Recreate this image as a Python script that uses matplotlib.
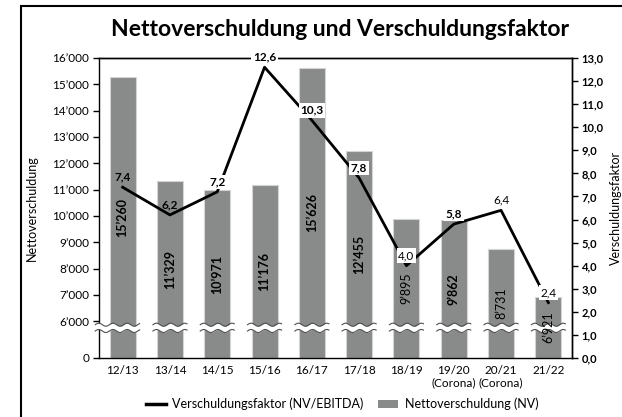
import numpy as np
import matplotlib.pyplot as plt
import matplotlib.transforms as mtransforms
from matplotlib.patches import Rectangle, Patch
from matplotlib.lines import Line2D

plt.rcParams['font.family'] = ['Lato', 'DejaVu Sans']

years = ['12/13', '13/14', '14/15', '15/16', '16/17', '17/18', '18/19',
         '19/20\n(Corona)', '20/21\n(Corona)', '21/22']
netdebt = [15260, 11329, 10971, 11176, 15626, 12455, 9895, 9862, 8731, 6921]
factor = [7.4, 6.2, 7.2, 12.6, 10.3, 7.8, 4.0, 5.8, 6.4, 2.4]
left_ticks = [0, 6000, 7000, 8000, 9000, 10000, 11000, 12000, 13000, 14000, 15000, 16000]
right_ticks = list(range(14))

# which labels are bold / boxed
bar_bold = [True, True, True, True, True, True, False, True, False, False]
fac_bold = [True, True, True, True, True, True, False, True, False, False]
fac_box = [False, False, True, True, True, True, True, True, False, True]

BAR_COL = '#898b8b'

# broken axis: 0..6000 squeezed into a short strip at the bottom
BREAK = 6000
LOWSPAN = 1400


def fwd(v):
    v = np.asarray(v, dtype=float)
    return np.where(v >= BREAK, v - BREAK + LOWSPAN, v * LOWSPAN / BREAK)


def inv(d):
    d = np.asarray(d, dtype=float)
    return np.where(d >= LOWSPAN, d - LOWSPAN + BREAK, d * BREAK / LOWSPAN)


def fmt_k(v):
    if v == 0:
        return '0'
    return f"{v // 1000}\u2019{v % 1000:03d}"


fig = plt.figure(figsize=(6.22, 4.17), dpi=100)
ax = fig.add_axes([99/622, 59/417, 473/622, 300/417])
ax.set_yscale('function', functions=(fwd, inv))

x = np.arange(len(years))
ax.bar(x, netdebt, width=0.55, color=BAR_COL, edgecolor='#d4d4d4', lw=0.8, zorder=2)
ax.set_ylim(0, 16000)
ax.set_xlim(-0.5, len(years) - 0.5)
ax.set_yticks(left_ticks)
ax.set_yticklabels([fmt_k(v) for v in left_ticks])
ax.yaxis.set_minor_locator(plt.NullLocator())
ax.set_xticks(x)
ax.set_xticklabels(years)
ax.tick_params(axis='y', direction='out', length=4, width=1, labelsize=8.5, pad=3)
ax.tick_params(axis='x', length=0, labelsize=8.5, pad=5)
for s in ax.spines.values():
    s.set_linewidth(1)

# values inside bars
for i, v in enumerate(netdebt):
    ymid = float(inv(fwd(v) / 2))
    ax.text(i, ymid, fmt_k(v), rotation=90, ha='center', va='center', fontsize=9,
            weight='bold' if bar_bold[i] else 'normal', color='black', zorder=5)

# wavy break marks
trans = mtransforms.blended_transform_factory(ax.transData, ax.transAxes)
for i in x:
    x0 = -0.58 if i == 0 else i - 0.36
    x1 = i + 0.36
    xs = np.linspace(x0, x1, 80)
    wave = 0.005 * np.sin((xs - x0) * 2 * np.pi / 0.3)
    ax.fill_between(xs, 0.09 + wave, 0.111 + wave, color='white', transform=trans,
                    zorder=4, clip_on=False, lw=0)
    ax.plot(xs, 0.111 + wave, color='#505050', lw=0.8, transform=trans, zorder=4.1, clip_on=False)
    ax.plot(xs, 0.09 + wave, color='#505050', lw=0.8, transform=trans, zorder=4.1, clip_on=False)

ax.set_ylabel('Nettoverschuldung', fontsize=9)
ax.yaxis.set_label_coords(-0.13, 0.5)

# right axis: Verschuldungsfaktor
ax2 = ax.twinx()
ax2.plot(x, factor, color='black', lw=2, zorder=3)
ax2.set_ylim(0, 13)
ax2.set_yticks(right_ticks)
ax2.set_yticklabels([f"{v:.1f}".replace('.', ',') for v in right_ticks], weight='bold')
ax2.tick_params(axis='y', direction='out', length=4, width=1, labelsize=8, pad=3)
ax2.spines['left'].set_visible(False)
ax2.spines['bottom'].set_visible(False)
ax2.spines['right'].set_linewidth(1)
ax2.spines['top'].set_linewidth(1)

for i, f in enumerate(factor):
    lab = f"{f:.1f}".replace('.', ',')
    box = dict(boxstyle='square,pad=0.15', fc='white', ec='none') if fac_box[i] else None
    ax2.annotate(lab, (i, f), xytext=(0, 10), textcoords='offset pixels',
                 ha='center', va='center', fontsize=8.5,
                 weight='bold' if fac_bold[i] else 'normal',
                 bbox=box, annotation_clip=False, zorder=6)

ax2.set_ylabel('Verschuldungsfaktor', fontsize=9)
ax2.yaxis.set_label_coords(1.08, 0.5)

fig.text(340/622, 1 - 30/417, 'Nettoverschuldung und Verschuldungsfaktor',
         fontsize=16.5, weight='bold', ha='center', va='center')

handles = [Line2D([], [], color='black', lw=2.5), Patch(facecolor=BAR_COL)]
fig.legend(handles, ['Verschuldungsfaktor (NV/EBITDA)', 'Nettoverschuldung (NV)'],
           loc='center', bbox_to_anchor=(342/622, 1 - 404/417), ncol=2, frameon=False,
           fontsize=9, handlelength=1.6, columnspacing=1.2, handletextpad=0.5)

# outer frame (runs off the right and bottom edge)
fig.patches.append(Rectangle((21/622, -0.1), 1.0, (417 - 6)/417 + 0.1,
                             transform=fig.transFigure, fill=False, ec='black', lw=1.5))

fig.savefig('out.png', dpi=100)
